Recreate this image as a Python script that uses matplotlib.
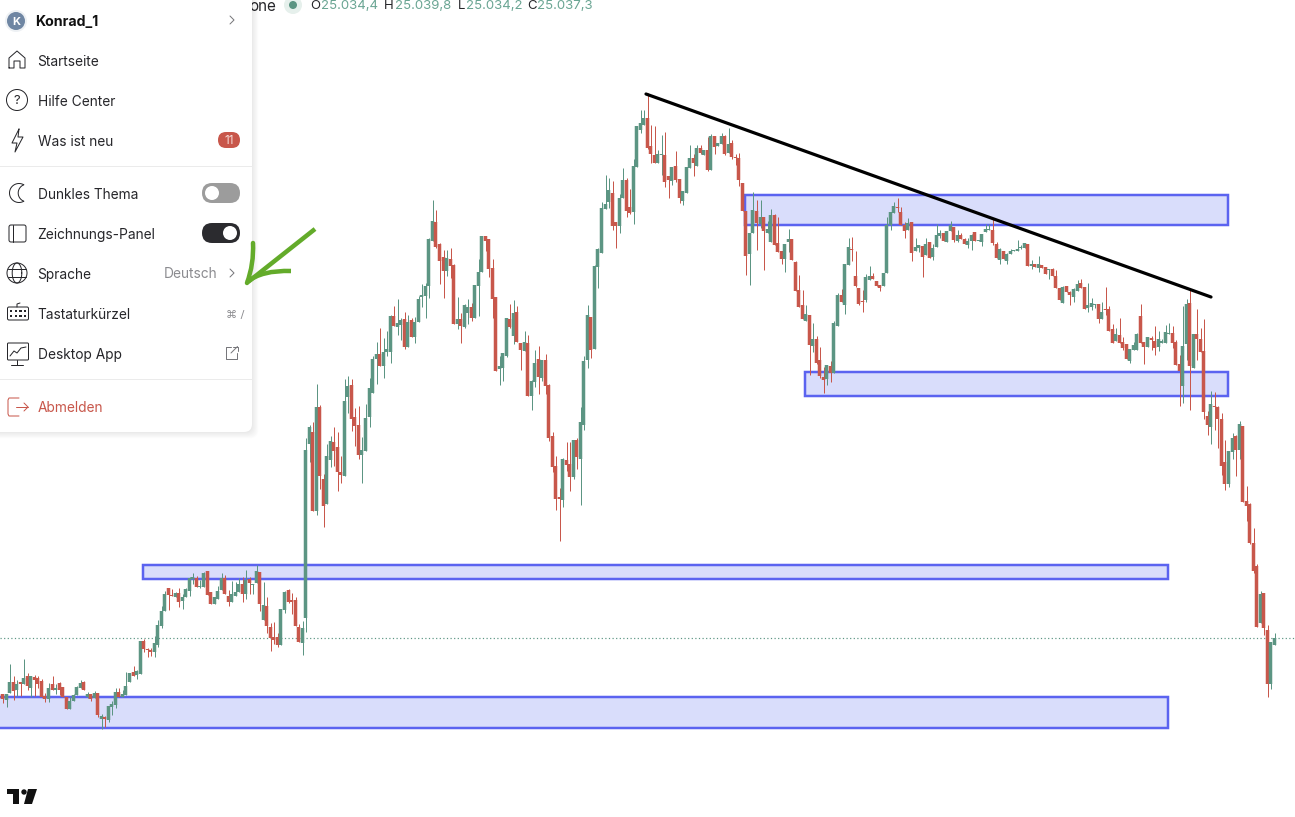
import numpy as np
import matplotlib
matplotlib.use('Agg')
import matplotlib.pyplot as plt
from matplotlib.patches import Circle, FancyBboxPatch, PathPatch, Polygon, Rectangle
from matplotlib.path import Path

plt.rcParams['font.family'] = ['Inter', 'DejaVu Sans']

# candles, values (level counted from the top of the chart)
opens = [
    694,700,693,682,690,682,684,676,688,677, 678,681,696,699,684,690,683,687,697,709,
    701,695,688,682,697,694,698,693,719,717, 720,707,705,692,697,695,682,672,675,674,
    641,649,650,652,645,626,611,588,595,597, 593,601,597,591,579,578,587,587,571,592,
    604,599,590,578,596,602,596,592,584,594, 579,585,583,572,620,606,627,637,637,645,
    610,590,600,600,627,643,618,444,432,511, 407,479,504,460,442,447,472,476,397,385,
    417,425,455,451,417,393,359,354,366,352, 352,316,327,325,319,347,320,337,322,297,
    296,286,241,222,244,257,271,259,265,324, 319,327,313,307,318,286,272,236,239,268,
    297,369,368,356,319,336,312,343,351,343, 396,382,359,378,360,385,436,466,497,500,
    460,464,477,440,459,425,360,317,349,267, 253,209,202,193,222,226,198,180,207,212,
    167,130,125,118,146,155,163,155,155,176, 181,166,179,201,193,168,158,166,148,155,
    150,170,136,146,144,136,153,143,157,158, 183,211,254,233,211,224,217,233,242,215,
    243,251,259,242,239,262,290,305,321,315, 346,339,360,377,379,366,373,326,295,305,
    265,249,276,288,301,300,280,276,281,285, 286,273,225,213,207,212,225,230,222,251,
    248,246,255,242,257,247,236,233,242,231, 227,241,235,239,245,241,232,241,242,232,
    230,230,244,260,251,261,254,251,251,248, 248,244,266,264,268,265,267,270,269,276,
    288,303,286,292,297,291,283,287,308,307, 305,304,319,309,309,329,341,335,342,344,
    361,350,350,316,342,347,338,341,347,343, 343,334,333,342,364,386,344,303,368,334,
    339,351,416,427,406,407,419,462,484,452, 436,450,426,501,504,543,566,623,593,630,684,645,
]
highs = [
    694,694,664,676,680,682,659,673,676,675, 676,679,693,683,676,684,682,687,697,697,
    694,686,680,681,692,694,691,693,714,716, 706,701,688,688,690,672,673,666,670,641,
    639,648,648,636,620,606,591,588,589,592, 588,594,588,577,573,576,580,572,571,592,
    597,586,573,575,590,581,582,578,577,570, 577,584,565,572,582,597,623,622,633,609,
    591,589,593,597,624,621,438,425,422,384, 405,474,444,436,427,432,456,379,376,379,
    408,406,437,404,378,356,342,328,338,331, 315,306,299,318,312,315,318,317,296,284,
    283,238,200,210,243,250,250,248,264,297, 313,304,299,303,285,259,236,236,239,259,
    297,356,353,318,304,300,306,343,331,335, 380,350,346,360,354,384,432,456,488,458,
    442,442,440,438,407,356,305,317,265,248, 202,175,178,181,222,194,168,178,189,159,
    126,110,110,93,125,126,150,135,132,176, 167,151,179,191,167,145,154,145,145,150,
    137,134,136,143,133,135,128,140,154,153, 183,211,233,192,200,200,217,221,209,214,
    217,251,244,229,239,261,275,290,305,315, 323,336,347,367,365,361,321,293,289,264,
    238,237,251,288,290,274,266,273,281,285, 273,217,212,202,198,207,222,218,222,238,
    245,246,238,242,244,224,230,233,231,221, 227,230,233,238,238,234,232,240,234,224,
    224,219,242,248,251,253,249,250,240,245, 243,244,260,264,256,265,267,269,268,270,
    288,286,286,291,288,280,279,287,283,298, 304,304,302,287,306,324,328,318,337,344,
    349,342,333,304,342,337,336,326,331,339, 325,323,326,340,355,306,299,290,334,309,
    328,319,411,391,392,406,413,440,451,433, 435,421,426,486,503,528,564,591,593,625,642,633,
]
lows = [
    703,707,693,700,696,696,684,690,697,696, 688,697,702,702,690,694,695,697,709,709,
    701,695,688,690,698,701,698,717,729,727, 722,715,708,697,697,695,682,676,679,674,
    652,657,656,657,647,628,611,610,596,597, 607,609,597,596,584,587,588,587,595,604,
    604,599,590,594,606,602,596,592,602,599, 594,594,583,611,620,633,651,644,647,645,
    613,603,614,626,642,655,632,462,511,515, 489,527,504,467,466,491,483,476,413,431,
    446,459,483,451,427,393,384,366,378,356, 363,326,335,340,349,347,337,343,322,307,
    318,298,241,248,284,298,276,278,324,329, 343,328,324,321,318,316,272,251,277,318,
    371,385,381,357,328,344,342,370,351,396, 410,387,394,381,394,441,472,510,541,507,
    471,491,479,469,505,430,368,358,349,288, 253,209,208,230,248,233,198,217,214,224,
    167,133,125,149,163,163,163,175,187,198, 185,182,203,205,193,168,176,166,154,155,
    171,170,154,146,144,155,153,159,165,186, 211,275,285,233,250,228,270,233,242,245,
    252,264,272,252,260,291,307,319,321,375, 352,364,378,393,385,382,373,326,302,314,
    265,261,287,305,312,302,280,279,286,291, 286,273,230,213,212,225,238,230,261,251,
    252,277,255,258,260,247,238,241,242,231, 242,242,239,244,248,250,241,241,246,232,
    230,245,258,264,259,264,254,251,251,249, 248,266,269,267,272,268,274,279,276,288,
    300,303,292,305,302,291,288,309,312,310, 308,323,319,315,331,343,341,343,350,359,
    363,350,350,343,364,347,350,355,351,343, 343,334,348,365,406,403,360,410,368,360,
    352,419,435,444,430,448,475,490,487,459, 476,459,502,521,544,573,627,623,635,697,689,645,
]
closes = [
    699,694,682,691,684,684,678,686,676,680, 684,697,699,688,690,688,690,697,709,701,
    695,687,683,690,694,699,693,715,716,719, 706,704,692,697,694,686,673,676,671,641,
    649,650,652,643,625,611,594,595,596,593, 602,597,589,578,577,587,586,573,595,604,
    597,591,578,594,602,594,592,584,594,580, 583,584,571,604,605,626,638,640,645,609,
    592,602,602,626,642,628,450,427,511,407, 476,506,456,441,451,472,475,401,386,419,
    426,455,450,418,388,359,354,366,352,349, 316,326,323,320,347,322,337,322,299,295,
    286,239,221,247,261,271,258,266,324,319, 326,305,307,318,285,272,236,241,269,299,
    371,366,353,318,327,313,342,350,342,396, 381,363,377,360,386,438,467,499,499,459,
    465,477,440,457,422,361,315,350,266,249, 208,204,190,226,226,198,180,211,213,166,
    126,123,118,148,154,163,154,154,182,180, 167,180,198,191,167,158,163,148,153,150,
    170,136,147,143,136,154,144,157,158,180, 211,256,233,210,223,217,231,229,215,245,
    252,259,244,239,260,291,307,319,314,345, 339,363,376,380,365,373,323,295,302,264,
    247,250,286,304,302,277,276,279,286,288, 273,225,212,206,208,225,231,223,253,247,
    245,257,244,258,248,235,233,241,231,225, 240,235,239,244,241,235,241,240,234,229,
    229,243,258,249,259,254,251,250,249,247, 243,266,264,267,264,268,274,269,276,288,
    300,287,292,295,289,284,288,309,305,303, 304,319,312,310,331,343,334,343,348,359,
    349,345,334,343,347,337,340,348,339,341, 332,333,343,365,371,346,304,366,334,339,
    352,412,425,404,407,419,466,484,451,438, 450,424,502,506,543,571,627,594,628,684,642,638,
]

# drawings on the chart: left, right, top, bottom
zone_left = [745, 805, 143, -10]
zone_right = [1228, 1228, 1168, 1168]
zone_top = [195, 372, 565, 697]
zone_bottom = [225, 396, 579, 728]
trend_x = [646, 1211]
trend_y = [94, 297]
last_price_level = 638

ohlc_labels = ['O', 'H', 'L', 'C']
ohlc_values = ['25.034,4', '25.039,8', '25.034,2', '25.037,3']
menu_top = ['Startseite', 'Hilfe Center', 'Was ist neu']
menu_mid = ['Dunkles Thema', 'Zeichnungs-Panel', 'Sprache', 'Tastaturkürzel', 'Desktop App']

GREEN = '#5C9583'
RED = '#C8574B'
BLUE = '#5B63F0'
ZONE = '#D9DDFB'
INK = '#26262A'
PX = 0.72  # one pixel in points at dpi 100
MENU_SIZE = 9.9

fig = plt.figure(figsize=(12.95, 8.17), dpi=100)
ax = fig.add_axes([0, 0, 1, 1])
ax.set_xlim(0, 1295)
ax.set_ylim(817, 0)
ax.axis('off')

ax.plot([0, 1295], [last_price_level] * 2, color=GREEN, lw=1.2 * PX, ls=(0, (1, 2)), zorder=1)

for l, r, t, b in zip(zone_left, zone_right, zone_top, zone_bottom):
    ax.add_patch(Rectangle((l, t), r - l, b - t, fc=ZONE, ec=BLUE, lw=2.5 * PX, zorder=2))

# candles
o, h, l, c = map(np.array, (opens, highs, lows, closes))
x = np.floor(np.linspace(2.7, 1274.3, len(o))) + 0.5
up = c < o
colors = np.where(up, GREEN, RED)
ax.vlines(x, h, l, colors=colors, lw=1 * PX, zorder=3)
bodies = ax.bar(x, np.abs(c - o), bottom=np.minimum(o, c), width=3.5, color=colors, linewidth=0, zorder=3)
for b in bodies:
    b.set_snap(False)

ax.plot(trend_x, trend_y, color='black', lw=3.2 * PX, solid_capstyle='round', zorder=4)

# header above the chart
ax.text(276, 6, 'one', fontsize=11, color=INK, ha='right', va='center', zorder=5)
ax.add_patch(Circle((293, 5), 9, fc='#E6F0EC', ec='none', zorder=5))
ax.add_patch(Circle((293, 5), 4, fc=GREEN, ec='none', zorder=5))
for lx, vx, lab, val in zip([310, 384, 458, 527], [321, 395, 466, 537], ohlc_labels, ohlc_values):
    ax.text(lx, 6, lab, fontsize=9.5, color=INK, va='center', zorder=5)
    ax.text(vx, 6, val, fontsize=9.5, color='#6AA593', va='center', zorder=5)

# menu panel with soft shadow
for i in range(8):
    ax.add_patch(FancyBboxPatch((-30, -30), 282 + i * 0.9, 462 + i * 0.9,
                                boxstyle='round,pad=0,rounding_size=8',
                                fc='black', ec='none', alpha=0.012, zorder=9))
ax.add_patch(FancyBboxPatch((-30, -30), 282, 462, boxstyle='round,pad=0,rounding_size=8',
                            fc='white', ec='none', zorder=10))
ax.plot([0, 252], [166, 166], color='#EBEBEB', lw=1 * PX, zorder=11)
ax.plot([0, 252], [379, 379], color='#EBEBEB', lw=1 * PX, zorder=11)

ax.add_patch(Circle((16, 21), 11, fc='#EEF1F4', ec='none', zorder=11))
ax.add_patch(Circle((16, 21), 9, fc='#6F86A3', ec='none', zorder=11))
ax.text(16, 21.5, 'K', color='white', fontsize=8, fontweight='bold', ha='center', va='center', zorder=12)
ax.text(35.5, 22, 'Konrad_1', color='#111111', fontsize=10.2, fontweight='bold', va='center', zorder=11)

for name, y in zip(menu_top, [62, 102, 142]):
    ax.text(37.5, y, name, color=INK, fontsize=MENU_SIZE, va='center', zorder=11)
for name, y in zip(menu_mid, [195, 235, 275, 315, 355]):
    ax.text(37.5, y, name, color=INK, fontsize=MENU_SIZE, va='center', zorder=11)
ax.text(37.5, 408, 'Abmelden', color=RED, fontsize=MENU_SIZE, va='center', zorder=11)
ax.text(217.5, 274, 'Deutsch', color='#8C8C90', fontsize=MENU_SIZE, ha='right', va='center', zorder=11)
ax.text(244, 314.5, '⌘ /', color='#8C8C90', fontsize=8, ha='right', va='center',
        family=['DejaVu Sans'], zorder=11)


def line(xs, ys, color=INK, lw=1.0):
    ax.plot(xs, ys, color=color, lw=lw * PX, solid_capstyle='round', solid_joinstyle='round', zorder=11)


def rbox(x0, y0, w, h, r, fc='none', ec=INK, lw=1.0):
    ax.add_patch(FancyBboxPatch((x0, y0), w, h, boxstyle=f'round,pad=0,rounding_size={r}',
                                fc=fc, ec=ec, lw=lw * PX, zorder=11))


# chevrons
for y in (20, 273):
    line([230, 234, 230], [y - 4, y, y + 4], color='#77777B')

# badge and toggles
rbox(218, 132, 22, 16, 8, fc=RED, ec='none')
ax.text(229, 140.5, '11', color='#F6DAD6', fontsize=8.5, ha='center', va='center', zorder=12)
rbox(202, 183, 38, 20, 10, fc='#9C9C9C', ec='none')
ax.add_patch(Circle((212, 193), 7, fc='white', ec='none', zorder=12))
rbox(202, 223, 38, 20, 10, fc='#2B2B2F', ec='none')
ax.add_patch(Circle((230, 233), 7, fc='white', ec='none', zorder=12))

# menu icons
line([9, 9, 17, 25, 25, 20, 20, 14, 14, 9], [68, 58, 51, 58, 68, 68, 61, 61, 68, 68])
ax.add_patch(Circle((17, 100), 10.5, fc='none', ec=INK, lw=PX, zorder=11))
ax.text(17, 100.5, '?', color=INK, fontsize=9.5, ha='center', va='center', zorder=11)
line([19, 12, 17, 15, 23, 18, 19], [129, 143, 143, 152, 137, 137, 129])
t = np.radians(np.linspace(60, 300, 40))
line(19 + 9.5 * np.cos(t), 193 - 9.5 * np.sin(t))
t2 = np.radians(np.linspace(111.6, 248.4, 30))
line(27 + 8.8 * np.cos(t2), 193 - 8.8 * np.sin(t2))
rbox(9, 225, 17, 17, 2)
line([13, 13], [225, 242])
ax.add_patch(Circle((17, 273), 10, fc='none', ec=INK, lw=PX, zorder=11))
t3 = np.linspace(0, 2 * np.pi, 60)
line(17 + 4.8 * np.cos(t3), 273 + 10 * np.sin(t3))
line([8, 26], [269, 269])
line([8, 26], [277, 277])
rbox(7.5, 307, 21, 13, 1.5)
line([17, 17, 20], [307, 304, 303])
for ky, count in zip((311, 316), (4, 4)):
    for kx in np.linspace(11, 25, count):
        ax.add_patch(Rectangle((kx - 1, ky - 1), 2.4, 2, fc=INK, ec='none', zorder=11))
rbox(7.5, 343, 21, 17, 1)
line([10, 14, 17, 21, 26], [356, 351, 353, 348, 347])
line([17, 17], [360, 365])
line([11, 23], [365, 365])
line([231, 225.5, 225.5, 237, 237], [347, 347, 358.5, 358.5, 353], color='#77777B')
line([231, 237.5], [353, 346.5], color='#77777B')
line([233, 237.5, 237.5], [346.5, 346.5, 351], color='#77777B')
line([19, 9, 8, 8, 9, 19], [398, 398, 400, 414, 416, 416], color=RED)
line([16, 28], [407, 407], color=RED)
line([24, 28, 24], [403, 407, 411], color=RED)

# hand drawn arrow
arrow = '#63AB2A'
ax.add_patch(PathPatch(Path([(315, 229), (248, 282)], [Path.MOVETO, Path.LINETO]),
                       fc='none', ec=arrow, lw=4.5 * PX, capstyle='butt', zorder=20))
ax.add_patch(PathPatch(Path([(253, 243), (254, 264), (247, 283)],
                            [Path.MOVETO, Path.CURVE3, Path.CURVE3]),
                       fc='none', ec=arrow, lw=4.5 * PX, capstyle='round', zorder=20))
ax.add_patch(PathPatch(Path([(247, 282), (262, 270), (291, 271)],
                            [Path.MOVETO, Path.CURVE3, Path.CURVE3]),
                       fc='none', ec=arrow, lw=4.5 * PX, capstyle='butt', zorder=20))

# TradingView mark
ax.add_patch(Polygon([(7, 789), (19, 789), (19, 804), (13, 804), (13, 794), (7, 794)],
                     fc='#111111', ec='none', zorder=5))
ax.add_patch(Circle((24, 792), 2.7, fc='#111111', ec='none', zorder=5))
ax.add_patch(Polygon([(28, 789), (37, 789), (32, 804), (24, 804)], fc='#111111', ec='none', zorder=5))

fig.savefig('out.png', dpi=100)
